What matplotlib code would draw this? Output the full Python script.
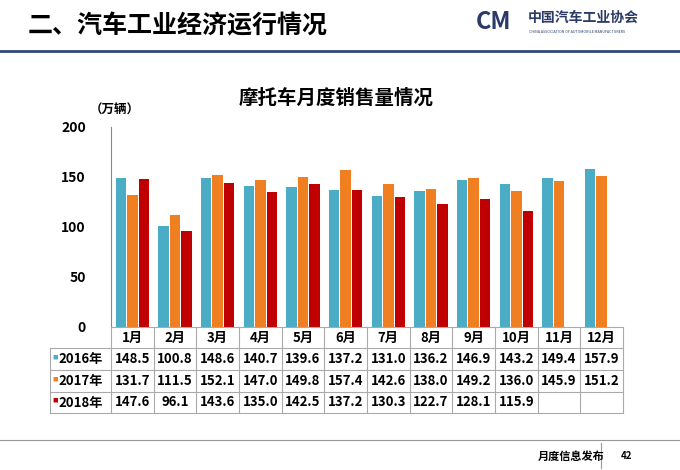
import matplotlib
matplotlib.use("Agg")
import matplotlib.pyplot as plt
from matplotlib.lines import Line2D
import numpy as np

plt.rcParams['font.family'] = ['Noto Sans CJK SC', 'DejaVu Sans']

months = ["1月","2月","3月","4月","5月","6月","7月","8月","9月","10月","11月","12月"]
series_names = ["2016年","2017年","2018年"]
s2016 = [148.5,100.8,148.6,140.7,139.6,137.2,131.0,136.2,146.9,143.2,149.4,157.9]
s2017 = [131.7,111.5,152.1,147.0,149.8,157.4,142.6,138.0,149.2,136.0,145.9,151.2]
s2018 = [147.6,96.1,143.6,135.0,142.5,137.2,130.3,122.7,128.1,115.9,None,None]
colors = ["#4BACC6","#F07F22","#C00000"]

W,H = 680,470
fig = plt.figure(figsize=(6.8,4.7),dpi=100)
def fx(x): return x/W
def fy(y): return 1-y/H

# header
fig.text(fx(28),fy(26),"二、汽车工业经济运行情况",fontsize=18,fontweight='heavy',va='center',ha='left')
fig.add_artist(Line2D([fx(0),fx(680)],[fy(51),fy(51)],color="#2E4A7A",lw=2))
fig.text(fx(476),fy(22),"CM",fontsize=17,fontweight='bold',style='italic',color="#2B3A67",va='center')
fig.text(fx(528),fy(18),"中国汽车工业协会",fontsize=10,fontweight='bold',color="#2B3A67",va='center')
fig.text(fx(529),fy(32),"CHINA ASSOCIATION OF AUTOMOBILE MANUFACTURERS",fontsize=2.6,color="#2B3A67",va='center')
# footer
fig.add_artist(Line2D([fx(0),fx(680)],[fy(440),fy(440)],color="#999999",lw=0.8))
fig.add_artist(Line2D([fx(601),fx(601)],[fy(443),fy(468)],color="#999999",lw=0.8))
fig.text(fx(538),fy(456),"月度信息发布",fontsize=8,fontweight='bold',va='center')
fig.text(fx(621),fy(456),"42",fontsize=7,fontweight='bold',va='center')

x0,x1,yt,yb = 111,623,127,327
ax = fig.add_axes([fx(x0),fy(yb),(x1-x0)/W,(yb-yt)/H])
ax.set_xlim(0,12); ax.set_ylim(0,200)
bw=0.27
x=np.arange(12)+0.5
for k,(s,c) in enumerate(zip([s2016,s2017,s2018],colors)):
    xs=[xi+(k-1)*bw for xi,v in zip(x,s) if v is not None]
    vs=[v for v in s if v is not None]
    ax.bar(xs,vs,width=bw*0.92,color=c)
ax.set_yticks([0,50,100,150,200])
ax.set_yticklabels(["0","50","100","150","200"],fontweight='bold',fontsize=10)
ax.set_xticks([])
for sp in ['top','right','bottom']: ax.spines[sp].set_visible(False)
ax.spines['left'].set_color("#888888")
ax.tick_params(axis='y',length=0,pad=18)
fig.text(fx(336),fy(98),"摩托车月度销售量情况",fontsize=14,fontweight='heavy',ha='center',va='center')
fig.text(fx(90),fy(110),"（万辆）",fontsize=9,fontweight='bold',ha='left',va='center')

# table
rows=[327,348,370,392,413]
gc="#AAAAAA"
left=50
for i,r in enumerate(rows):
    xa = x0 if i==0 else left
    fig.add_artist(Line2D([fx(xa),fx(x1)],[fy(r),fy(r)],color=gc,lw=0.8))
cw=(x1-x0)/12
for j in range(13):
    xc=x0+j*cw
    fig.add_artist(Line2D([fx(xc),fx(xc)],[fy(327),fy(413)],color=gc,lw=0.8))
fig.add_artist(Line2D([fx(left),fx(left)],[fy(348),fy(413)],color=gc,lw=0.8))
for j,m in enumerate(months):
    fig.text(fx(x0+(j+.5)*cw),fy(338),m,fontsize=9.5,fontweight='bold',ha='center',va='center')
for i,(nm,s,c) in enumerate(zip(series_names,[s2016,s2017,s2018],colors)):
    yc=(rows[i+1]+rows[i+2])/2
    fig.text(fx(52),fy(yc-2),"■",fontsize=4,color=c,ha='left',va='center')
    fig.text(fx(58),fy(yc),nm,fontsize=9.5,fontweight='bold',ha='left',va='center')
    for j,v in enumerate(s):
        if v is not None:
            fig.text(fx(x0+(j+.5)*cw),fy(yc),f"{v:.1f}",fontsize=9.5,fontweight='bold',ha='center',va='center')

fig.savefig("out.png",dpi=100)
